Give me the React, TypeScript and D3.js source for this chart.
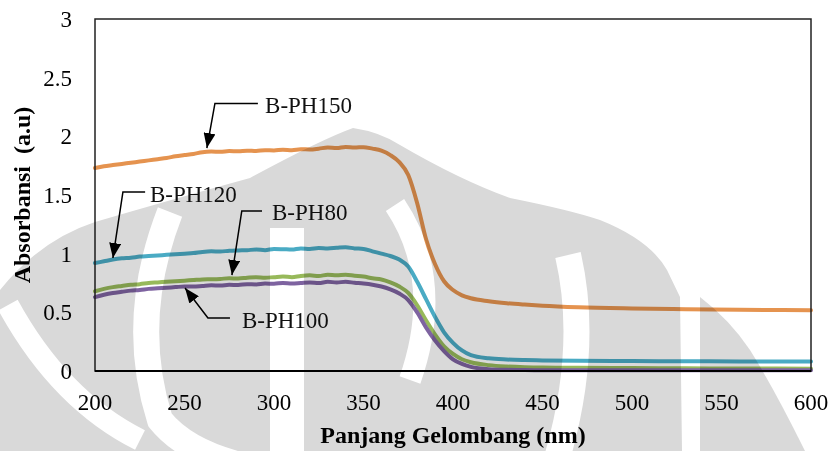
import { useEffect, useRef } from "react";
import * as d3 from "d3";

// wavelength (nm) shared by every series
const wavelength = [
  200, 205, 210, 215, 220, 225, 230, 235, 240, 245,
  250, 255, 260, 265, 270, 275, 280, 285, 290, 295,
  300, 305, 310, 315, 320, 325, 330, 335, 340, 345,
  350, 355, 360, 365, 370, 375, 380, 385, 390, 395,
  400, 405, 410, 420, 430, 440, 450, 470, 500, 530, 560, 600,
];

const bPH80 = [
  0.68, 0.70, 0.715, 0.725, 0.735, 0.74, 0.75, 0.755, 0.76, 0.765,
  0.77, 0.775, 0.78, 0.782, 0.785, 0.79, 0.788, 0.795, 0.80, 0.795,
  0.80, 0.805, 0.80, 0.81, 0.815, 0.81, 0.82, 0.815, 0.82, 0.812,
  0.805, 0.79, 0.78, 0.755, 0.72, 0.665, 0.56, 0.43, 0.31, 0.21,
  0.145, 0.10, 0.075, 0.05, 0.038, 0.032, 0.03, 0.027, 0.025, 0.023, 0.021, 0.02,
];

const bPH100 = [
  0.63, 0.65, 0.665, 0.675, 0.685, 0.69, 0.70, 0.705, 0.71, 0.715,
  0.72, 0.72, 0.725, 0.73, 0.728, 0.735, 0.733, 0.74, 0.738, 0.745,
  0.744, 0.75, 0.745, 0.75, 0.755, 0.75, 0.76, 0.755, 0.76, 0.752,
  0.745, 0.735, 0.72, 0.695, 0.66, 0.605, 0.50, 0.37, 0.26, 0.17,
  0.10, 0.06, 0.035, 0.015, 0.01, 0.008, 0.007, 0.006, 0.006, 0.006, 0.006, 0.006,
];

const bPH120 = [
  0.92, 0.935, 0.95, 0.96, 0.965, 0.975, 0.98, 0.985, 0.99, 0.995,
  1.0, 1.005, 1.015, 1.02, 1.018, 1.025, 1.028, 1.03, 1.035, 1.03,
  1.04, 1.038, 1.035, 1.045, 1.04, 1.048, 1.045, 1.05, 1.055, 1.045,
  1.04, 1.02, 1.0, 0.98, 0.95, 0.89, 0.76, 0.61, 0.46, 0.33,
  0.24, 0.175, 0.135, 0.108, 0.098, 0.093, 0.09, 0.087, 0.085, 0.083, 0.081, 0.08,
];

const bPH150 = [
  1.73, 1.745, 1.755, 1.765, 1.775, 1.785, 1.795, 1.805, 1.815, 1.83,
  1.84, 1.85, 1.865, 1.87, 1.868, 1.875, 1.872, 1.878, 1.875, 1.882,
  1.88, 1.886, 1.882, 1.89, 1.888, 1.895, 1.905, 1.90, 1.91, 1.905,
  1.908, 1.895, 1.878, 1.84, 1.78, 1.67, 1.43, 1.12, 0.91, 0.765,
  0.69, 0.645, 0.62, 0.595, 0.578, 0.566, 0.556, 0.543, 0.533, 0.527, 0.522, 0.518,
];

const seriesNames = ["B-PH80", "B-PH100", "B-PH120", "B-PH150"];
const seriesValues = [bPH80, bPH100, bPH120, bPH150];
const seriesColors = ["#97B95A", "#7E63A0", "#4AABC4", "#E5934F"];

const xTicks = [200, 250, 300, 350, 400, 450, 500, 550, 600];
const yTicks = [0, 0.5, 1, 1.5, 2, 2.5, 3];
const yTickLabels = ["0", "0.5", "1", "1.5", "2", "2.5", "3"];

// callouts in data units: arrow tip, elbow, end of the leader, label position
const calloutNames = ["B-PH150", "B-PH120", "B-PH80", "B-PH100"];
const calloutTips = [[262.5, 1.9], [210, 0.963], [276.5, 0.818], [250.3, 0.708]];
const calloutElbows = [[267, 2.28], [215.6, 1.526], [282, 1.364], [263.1, 0.452]];
const calloutEnds = [[291, 2.28], [228, 1.526], [293.3, 1.364], [275.4, 0.452]];
const calloutText = [[295, 2.2], [230.7, 1.44], [298.9, 1.287], [282.1, 0.367]];

const W = 831;
const H = 451;
const margin = { top: 19, right: 20, bottom: 80, left: 95 };

export default function App() {
  const svgRef = useRef<SVGSVGElement>(null);

  useEffect(() => {
    document.body.style.margin = "0";
    const svg = d3.select(svgRef.current);
    svg.selectAll("*").remove();

    const x = d3.scaleLinear().domain([200, 600]).range([margin.left, W - margin.right]);
    const y = d3.scaleLinear().domain([0, 3]).range([H - margin.bottom, margin.top]);

    const font = "'Liberation Serif', 'Times New Roman', serif";

    svg.append("rect").attr("width", W).attr("height", H).attr("fill", "#fff");

    const defs = svg.append("defs");
    defs.append("marker")
      .attr("id", "arrow")
      .attr("markerUnits", "userSpaceOnUse")
      .attr("markerWidth", 16)
      .attr("markerHeight", 12)
      .attr("refX", 15)
      .attr("refY", 6)
      .attr("orient", "auto")
      .append("path")
      .attr("d", "M0,0 L15,6 L0,12 Z")
      .attr("fill", "#000");

    // lines
    const line = d3.line<number>()
      .x((_, i) => x(wavelength[i]))
      .y(d => y(d))
      .curve(d3.curveMonotoneX);

    svg.append("g")
      .selectAll("path")
      .data(seriesValues)
      .join("path")
      .attr("d", d => line(d))
      .attr("fill", "none")
      .attr("stroke", (_, i) => seriesColors[i])
      .attr("stroke-width", 4)
      .attr("stroke-linejoin", "round")
      .attr("stroke-linecap", "round")
      .attr("data-name", (_, i) => seriesNames[i]);

    // frame
    svg.append("rect")
      .attr("x", x(200))
      .attr("y", y(3))
      .attr("width", x(600) - x(200))
      .attr("height", y(0) - y(3))
      .attr("fill", "none")
      .attr("stroke", "#222")
      .attr("stroke-width", 1.5);
    svg.append("line")
      .attr("x1", x(200)).attr("x2", x(600))
      .attr("y1", y(0)).attr("y2", y(0))
      .attr("stroke", "#000").attr("stroke-width", 2);

    // tick labels
    svg.append("g")
      .selectAll("text")
      .data(yTicks)
      .join("text")
      .attr("x", x(200) - 23)
      .attr("y", d => y(d) + 8)
      .attr("text-anchor", "end")
      .attr("font-family", font)
      .attr("font-size", 23)
      .text((_, i) => yTickLabels[i]);

    svg.append("g")
      .selectAll("text")
      .data(xTicks)
      .join("text")
      .attr("x", d => x(d))
      .attr("y", y(0) + 39)
      .attr("text-anchor", "middle")
      .attr("font-family", font)
      .attr("font-size", 23)
      .text(d => d);

    // axis titles
    svg.append("text")
      .attr("x", (x(200) + x(600)) / 2)
      .attr("y", 443)
      .attr("text-anchor", "middle")
      .attr("font-family", font)
      .attr("font-weight", "bold")
      .attr("font-size", 24)
      .text("Panjang Gelombang (nm)");

    svg.append("text")
      .attr("transform", "translate(30,195) rotate(-90)")
      .attr("text-anchor", "middle")
      .attr("font-family", font)
      .attr("font-weight", "bold")
      .attr("font-size", 24)
      .style("white-space", "pre")
      .text("Absorbansi  (a.u)");

    // callouts
    const callouts = svg.append("g");
    calloutNames.forEach((name, i) => {
      const [tx, ty] = calloutTips[i];
      const [ex, ey] = calloutElbows[i];
      const [nx, ny] = calloutEnds[i];
      callouts.append("path")
        .attr("d", `M${x(nx)},${y(ny)} L${x(ex)},${y(ey)} L${x(tx)},${y(ty)}`)
        .attr("fill", "none")
        .attr("stroke", "#000")
        .attr("stroke-width", 1.5)
        .attr("marker-end", "url(#arrow)");
      callouts.append("text")
        .attr("x", x(calloutText[i][0]))
        .attr("y", y(calloutText[i][1]))
        .attr("font-family", font)
        .attr("font-size", 23)
        .attr("fill", "#111")
        .text(name);
    });

    // faint watermark laid over the figure
    const wm = svg.append("g")
      .style("isolation", "isolate")
      .style("mix-blend-mode", "multiply");
    wm.append("path")
      .attr("d", "M0,290 Q40,240 95,222 Q170,200 250,178 Q320,140 353,128 Q380,132 400,145 Q460,180 510,198 Q570,210 600,220 Q650,240 667,270 L680,297 L682,451 L0,451 Z")
      .attr("fill", "#d9d9d9");
    wm.append("path")
      .attr("d", "M700,297 Q730,320 750,350 Q775,390 805,451 L700,451 Z")
      .attr("fill", "#d9d9d9");
    const bands = [
      { d: "M170,212 Q128,320 160,420 Q185,451 240,465", w: 26 },
      { d: "M8,305 Q60,400 140,440", w: 22 },
      { d: "M287,228 L287,465", w: 34 },
      { d: "M395,205 Q445,280 410,380", w: 22 },
      { d: "M568,255 Q590,350 555,465", w: 26 },
    ];
    wm.selectAll("path.band")
      .data(bands)
      .join("path")
      .attr("class", "band")
      .attr("d", d => d.d)
      .attr("fill", "none")
      .attr("stroke", "#fff")
      .attr("stroke-width", d => d.w);
  }, []);

  return <svg ref={svgRef} width={W} height={H} style={{ display: "block" }} />;
}
